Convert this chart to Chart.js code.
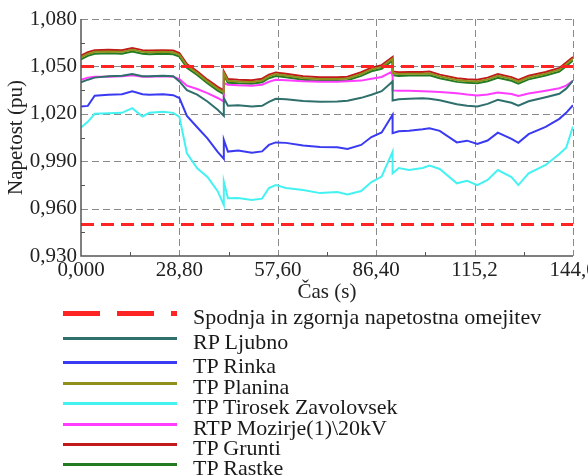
<!DOCTYPE html>
<html>
<head>
<meta charset="utf-8">
<script src="https://cdn.jsdelivr.net/npm/chart.js@4.4.0/dist/chart.umd.min.js"></script>
<style>
  body { margin: 0; background: #fff; font-family: "Liberation Serif", serif; }
  #page { position: relative; width: 588px; height: 475px; overflow: hidden; }
  #chart { position: absolute; left: 0; top: 0; }
  .lg-row { position: absolute; left: 0; width: 588px; }
  .lg-swatch { position: absolute; left: 63px; width: 114px; }
  .lg-text { position: absolute; left: 193px; font-size: 22px; line-height: 22px; color: #1a1a1a;
             white-space: nowrap; font-family: "Liberation Serif", serif; }
</style>
</head>
<body>
<div id="page">
  <canvas id="chart" width="588" height="305"></canvas>
  <div id="legend"></div>
</div>
<script>
// time axis (s); repeated times are the step changes
const times = [0, 2, 4, 8, 12, 15, 18, 20, 24, 27, 28.8, 31, 34, 37, 40, 41.8, 41.8, 43, 46, 50,
  53, 55, 57, 60, 65, 70, 75, 78, 82, 85, 88, 91.2, 91.2, 93, 96, 100, 102, 105, 110, 113,
  116, 119, 122, 126, 128, 131, 136, 140, 142, 144];

const rpLjubno = [1.0399, 1.0416, 1.0429, 1.0438, 1.0441, 1.0452, 1.0438, 1.0438, 1.0441, 1.0438,
  1.0405, 1.0350, 1.0321, 1.0278, 1.0225, 1.0187, 1.0300, 1.0251, 1.0254, 1.0246,
  1.0251, 1.0276, 1.0295, 1.0292, 1.0281, 1.0276, 1.0278, 1.0282, 1.0301, 1.0321,
  1.0343, 1.0405, 1.0284, 1.0292, 1.0295, 1.0298, 1.0295, 1.0286, 1.0260, 1.0251,
  1.0246, 1.0263, 1.0289, 1.0270, 1.0251, 1.0279, 1.0305, 1.0327, 1.0359, 1.0409];

const tpRinka = [1.0246, 1.0250, 1.0314, 1.0321, 1.0324, 1.0342, 1.0324, 1.0321, 1.0324, 1.0318,
  1.0300, 1.0187, 1.0115, 1.0045, 0.9959, 0.9915, 1.0035, 0.9961, 0.9968, 0.9954,
  0.9962, 1.0003, 1.0019, 1.0016, 1.0000, 0.9990, 0.9988, 0.9978, 1.0003, 1.0053,
  1.0082, 1.0194, 1.0077, 1.0089, 1.0092, 1.0102, 1.0109, 1.0092, 1.0019, 1.0030,
  1.0009, 1.0031, 1.0081, 1.0041, 1.0016, 1.0071, 1.0117, 1.0168, 1.0206, 1.0254];

const tpPlanina = [1.0557, 1.0579, 1.0592, 1.0595, 1.0592, 1.0606, 1.0592, 1.0589, 1.0592, 1.0589,
  1.0574, 1.0504, 1.0458, 1.0405, 1.0359, 1.0337, 1.0457, 1.0409, 1.0405, 1.0402,
  1.0411, 1.0437, 1.0451, 1.0443, 1.0427, 1.0421, 1.0421, 1.0424, 1.0452, 1.0481,
  1.0497, 1.0549, 1.0457, 1.0452, 1.0454, 1.0454, 1.0456, 1.0437, 1.0414, 1.0408,
  1.0405, 1.0418, 1.0440, 1.0421, 1.0403, 1.0430, 1.0454, 1.0479, 1.0513, 1.0549];

const tpTirosek = [1.0113, 1.0149, 1.0200, 1.0204, 1.0206, 1.0236, 1.0183, 1.0206, 1.0213, 1.0206,
  1.0181, 0.9950, 0.9855, 0.9800, 0.9710, 0.9622, 0.9770, 0.9665, 0.9667, 0.9654,
  0.9663, 0.9730, 0.9749, 0.9730, 0.9717, 0.9698, 0.9705, 0.9690, 0.9711, 0.9768,
  0.9803, 0.9960, 0.9823, 0.9857, 0.9844, 0.9857, 0.9873, 0.9851, 0.9760, 0.9776,
  0.9749, 0.9781, 0.9844, 0.9800, 0.9749, 0.9823, 0.9876, 0.9945, 0.9985, 1.0119];

const rtpMozirje = [1.0416, 1.0429, 1.0435, 1.0435, 1.0437, 1.0444, 1.0435, 1.0435, 1.0437, 1.0435,
  1.0420, 1.0378, 1.0357, 1.0331, 1.0300, 1.0278, 1.0395, 1.0384, 1.0380, 1.0378,
  1.0384, 1.0403, 1.0416, 1.0413, 1.0406, 1.0403, 1.0403, 1.0406, 1.0410, 1.0422,
  1.0433, 1.0468, 1.0348, 1.0346, 1.0346, 1.0343, 1.0341, 1.0338, 1.0330, 1.0322,
  1.0316, 1.0322, 1.0334, 1.0325, 1.0313, 1.0328, 1.0346, 1.0362, 1.0378, 1.0408];

const tpGrunti = [1.0568, 1.0590, 1.0603, 1.0606, 1.0603, 1.0617, 1.0603, 1.0600, 1.0603, 1.0600,
  1.0585, 1.0515, 1.0469, 1.0416, 1.0370, 1.0348, 1.0468, 1.0420, 1.0416, 1.0413,
  1.0422, 1.0448, 1.0462, 1.0454, 1.0438, 1.0432, 1.0432, 1.0435, 1.0463, 1.0492,
  1.0508, 1.0560, 1.0468, 1.0463, 1.0465, 1.0465, 1.0467, 1.0448, 1.0425, 1.0419,
  1.0416, 1.0429, 1.0451, 1.0432, 1.0414, 1.0441, 1.0465, 1.0490, 1.0524, 1.0560];

const tpRastke = [1.0545, 1.0567, 1.0580, 1.0583, 1.0580, 1.0594, 1.0580, 1.0577, 1.0580, 1.0577,
  1.0562, 1.0492, 1.0446, 1.0393, 1.0347, 1.0325, 1.0445, 1.0397, 1.0393, 1.0390,
  1.0399, 1.0425, 1.0439, 1.0431, 1.0415, 1.0409, 1.0409, 1.0412, 1.0440, 1.0469,
  1.0485, 1.0537, 1.0445, 1.0440, 1.0442, 1.0442, 1.0444, 1.0425, 1.0402, 1.0396,
  1.0393, 1.0406, 1.0428, 1.0409, 1.0391, 1.0418, 1.0442, 1.0467, 1.0501, 1.0537];

const limitTimes = [0, 144];
const lowerLimit = [0.95, 0.95];
const upperLimit = [1.05, 1.05];

const xTickValues = [0, 28.8, 57.6, 86.4, 115.2, 144];
const xTickLabels = ['0,000', '28,80', '57,60', '86,40', '115,2', '144,0'];
const xMinorTicks = [14.4, 43.2, 72, 100.8, 129.6];
const yTickValues = [0.93, 0.96, 0.99, 1.02, 1.05, 1.08];
const yTickLabels = ['0,930', '0,960', '0,990', '1,020', '1,050', '1,080'];
const yMinorTicks = [0.945, 0.975, 1.005, 1.035, 1.065];

const limitName = 'Spodnja in zgornja napetostna omejitev';

// legend row centres (px from top of page)
const legendRowY = [313, 338, 362, 383, 403, 424, 444, 464];

function pts(xs, ys) {
    return xs.map((t, i) => ({ x: t, y: ys[i] }));
}

function series(label, ys, color) {
    return { label: label, data: pts(times, ys), borderColor: color, backgroundColor: color,
        borderWidth: 2, pointRadius: 0, tension: 0, showInLegend: true };
}

const limitColor = '#ff2424';
const datasets = [
    { label: limitName, data: pts(limitTimes, upperLimit), borderColor: limitColor, borderWidth: 3,
      borderDash: [13, 7], pointRadius: 0, showInLegend: true, dashed: true },
    { label: limitName, data: pts(limitTimes, lowerLimit), borderColor: limitColor, borderWidth: 3,
      borderDash: [13, 7], pointRadius: 0, showInLegend: false },
    series('RP Ljubno', rpLjubno, '#2f6f6c'),
    series('TP Rinka', tpRinka, '#3a3af2'),
    series('TP Planina', tpPlanina, '#8f8f1c'),
    series('TP Tirosek Zavolovsek', tpTirosek, '#45f2f2'),
    series('RTP Mozirje(1)\\20kV', rtpMozirje, '#ff3cff'),
    series('TP Grunti', tpGrunti, '#c21a1a'),
    series('TP Rastke', tpRastke, '#237c23')
];

// dashed grid behind the data
const dashedGrid = {
    id: 'dashedGrid',
    beforeDatasetsDraw(chart) {
        const { ctx, chartArea, scales } = chart;
        ctx.save();
        ctx.strokeStyle = '#8a8a8a';
        ctx.lineWidth = 1;
        ctx.setLineDash([7, 4]);
        xTickValues.slice(1).forEach(v => {
            const px = Math.round(scales.x.getPixelForValue(v)) + 0.5;
            ctx.beginPath();
            ctx.moveTo(px, chartArea.top);
            ctx.lineTo(px, chartArea.bottom);
            ctx.stroke();
        });
        yTickValues.slice(1).forEach(v => {
            const py = Math.round(scales.y.getPixelForValue(v)) + 0.5;
            ctx.beginPath();
            ctx.moveTo(chartArea.left, py);
            ctx.lineTo(chartArea.right, py);
            ctx.stroke();
        });
        ctx.restore();
    }
};

// axis lines and small inward ticks between the major grid lines
const axesAndMinorTicks = {
    id: 'axesAndMinorTicks',
    afterDraw(chart) {
        const { ctx, chartArea, scales } = chart;
        ctx.save();
        ctx.strokeStyle = '#555';
        ctx.lineWidth = 1;
        xMinorTicks.forEach(v => {
            const px = Math.round(scales.x.getPixelForValue(v)) + 0.5;
            ctx.beginPath();
            ctx.moveTo(px, chartArea.bottom);
            ctx.lineTo(px, chartArea.bottom - 4);
            ctx.stroke();
        });
        yMinorTicks.forEach(v => {
            const py = Math.round(scales.y.getPixelForValue(v)) + 0.5;
            ctx.beginPath();
            ctx.moveTo(chartArea.left, py);
            ctx.lineTo(chartArea.left + 4, py);
            ctx.stroke();
        });
        ctx.lineWidth = 1.5;
        ctx.beginPath();
        ctx.moveTo(chartArea.left, chartArea.top);
        ctx.lineTo(chartArea.left, chartArea.bottom);
        ctx.lineTo(chartArea.right, chartArea.bottom);
        ctx.stroke();
        ctx.restore();
    }
};

Chart.defaults.font.family = 'Liberation Serif';
const font = { family: 'Liberation Serif', size: 21 };

new Chart(document.getElementById('chart').getContext('2d'), {
    type: 'line',
    data: { datasets: datasets },
    options: {
        responsive: false,
        animation: false,
        devicePixelRatio: 1,
        layout: { padding: { top: 19, right: 15, left: 0, bottom: 0 } },
        plugins: { legend: { display: false }, tooltip: { enabled: false } },
        scales: {
            x: {
                type: 'linear', min: 0, max: 144,
                grid: { display: false, drawTicks: false },
                border: { display: false },
                ticks: { font: font, color: '#222', padding: 2, maxRotation: 0,
                    callback: (v, i) => xTickLabels[i] },
                afterBuildTicks: s => { s.ticks = xTickValues.map(v => ({ value: v })); },
                afterFit: s => { s.height = 49; s.paddingLeft = 0; s.paddingRight = 0; },
                title: { display: true, text: 'Čas (s)', font: font, color: '#222',
                    padding: { top: 0, bottom: 0 } }
            },
            y: {
                type: 'linear', min: 0.93, max: 1.08,
                grid: { display: false, drawTicks: false },
                border: { display: false },
                ticks: { font: font, color: '#222', padding: 4,
                    callback: (v, i) => yTickLabels[i] },
                afterBuildTicks: s => { s.ticks = yTickValues.map(v => ({ value: v })); },
                afterFit: s => { s.width = 81; s.paddingTop = 0; s.paddingBottom = 0; },
                title: { display: true, text: 'Napetost (pu)', font: font, color: '#222',
                    padding: { top: 4, bottom: 0 } }
            }
        }
    },
    plugins: [dashedGrid, axesAndMinorTicks]
});

// legend below the chart
const legend = document.getElementById('legend');
datasets.filter(d => d.showInLegend).forEach((d, i) => {
    const row = document.createElement('div');
    row.className = 'lg-row';
    row.style.top = legendRowY[i] + 'px';
    const sw = document.createElement('div');
    sw.className = 'lg-swatch';
    if (d.dashed) {
        sw.style.height = '5px';
        sw.style.top = '-2.5px';
        sw.style.background = `repeating-linear-gradient(90deg, ${d.borderColor} 0 37px, transparent 37px 54px)`;
    } else {
        sw.style.height = '3px';
        sw.style.top = '-1.5px';
        sw.style.background = d.borderColor;
    }
    const txt = document.createElement('div');
    txt.className = 'lg-text';
    txt.style.top = '-7px';
    txt.textContent = d.label;
    row.appendChild(sw);
    row.appendChild(txt);
    legend.appendChild(row);
});
</script>
</body>
</html>
